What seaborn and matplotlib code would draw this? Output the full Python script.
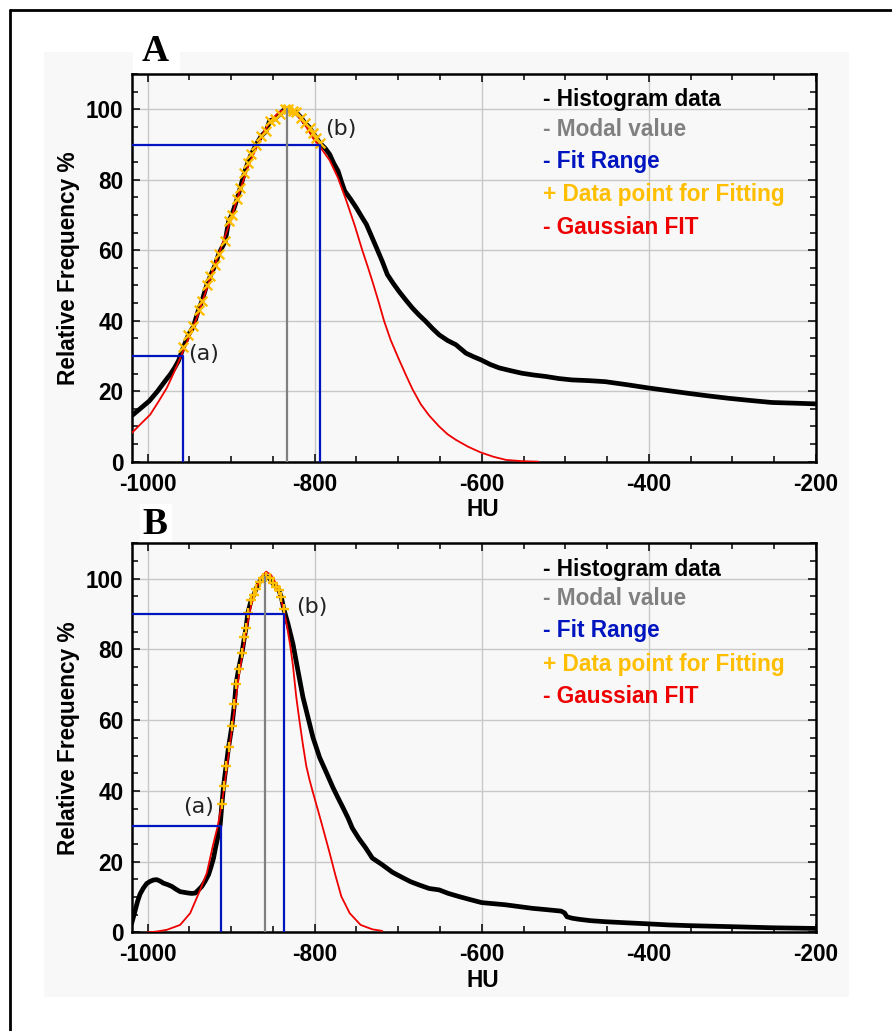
import numpy as np
import seaborn as sns
import matplotlib.pyplot as plt
from matplotlib.patches import Rectangle
from matplotlib.lines import Line2D
from matplotlib.ticker import MultipleLocator

# ---- panel A (HU, relative frequency %) ----
hist_a_hu = [-1018, -1013, -1008, -1003, -998, -993, -988, -983, -978, -973, -968, -963,
             -957, -951, -945, -939, -935, -929, -925, -919, -915, -907, -903, -899,
             -893, -889, -884, -880, -876, -870, -864, -858, -854, -848, -842, -836,
             -832, -826, -822, -816, -812, -806, -802, -798, -794,
             -787, -782, -777, -772, -768, -764, -757, -750, -744, -738, -732, -726,
             -719, -713, -706, -699, -691, -683, -675, -667, -659, -651, -641, -631,
             -619, -610, -601, -590, -579, -565, -552, -538, -524, -508, -492, -472,
             -452, -425, -400, -375, -353, -330, -305, -280, -253, -225, -200]
hist_a_freq = [13.2, 14.2, 15.2, 16.2, 17.2, 18.6, 20.0, 21.6, 23.2, 24.7, 26.5, 28.6,
               32.5, 36.0, 38.4, 43.1, 45.5, 50.2, 52.6, 55.9, 58.8, 62.6, 68.2, 70.1,
               74.4, 77.7, 82.0, 84.8, 87.2, 90.0, 92.4, 93.8, 96.7, 97.2, 98.6, 100.0,
               100.0, 99.5, 99.1, 97.6, 96.2, 94.8, 93.3, 91.9, 90.5,
               88.8, 87.2, 84.6, 82.5, 79.5, 76.8, 74.5, 72.0, 69.6, 67.3, 64.0, 60.7,
               56.8, 53.1, 50.6, 48.3, 45.9, 43.6, 41.6, 39.8, 37.8, 36.0, 34.4, 33.2,
               30.8, 29.8, 28.9, 27.6, 26.6, 25.8, 25.1, 24.6, 24.2, 23.6, 23.2, 23.0,
               22.7, 21.8, 20.9, 20.1, 19.4, 18.7, 18.0, 17.4, 16.8, 16.6, 16.4]
gauss_a_hu = [-1019, -1009, -997, -987, -977, -968, -961, -950, -940, -930, -920, -910,
              -900, -890, -880, -870, -860, -850, -842, -834, -826, -818, -810, -802,
              -794, -788, -782, -772, -762, -752, -743, -736, -730, -723, -717, -709,
              -700, -691, -683, -673, -663, -651, -641, -631, -616, -601, -586, -571,
              -552, -532]
gauss_a_freq = [8.1, 10.5, 13.3, 17.0, 20.9, 25.5, 29.4, 35.5, 41.5, 48.5, 55.5, 62.0,
                69.0, 76.5, 83.5, 89.0, 94.0, 97.5, 99.3, 100.0, 99.5, 97.5, 95.0, 91.8,
                89.5, 87.5, 85.5, 80.5, 74.0, 67.0, 60.0, 55.0, 50.5, 45.0, 40.0, 34.5,
                29.5, 24.7, 20.6, 16.3, 13.1, 10.0, 7.8, 6.2, 4.2, 2.6, 1.4, 0.5,
                0.15, 0.0]
fit_a = (-958, -794)      # HU at (a) 30 % and (b) 90 %
modal_a = -833

# ---- panel B ----
hist_b_hu = [-1019, -1015, -1012, -1009, -1005, -1001, -997, -993, -989, -985, -981, -976,
             -971, -966, -961, -956, -951, -947, -943, -939, -935, -931, -927, -924,
             -921, -919, -917, -915, -913,
             -911, -909, -906, -903, -899, -896, -894, -891, -887, -884, -882, -880,
             -876, -873, -870, -866, -862, -858, -854, -850, -846, -843, -840, -837,
             -832, -826, -820, -814, -808, -802, -794, -786, -778, -772, -766, -760,
             -755, -747, -739, -731, -719, -707, -695, -685, -675, -663, -651, -640,
             -627, -613, -600, -586, -572, -556, -540, -522, -505, -501, -498, -492,
             -484, -470, -452, -427, -401, -377, -353, -327, -301, -278, -254, -228, -200]
hist_b_freq = [2.5, 6.0, 8.7, 10.8, 12.5, 13.8, 14.4, 14.8, 14.9, 14.5, 13.9, 13.5,
               13.0, 12.2, 11.5, 11.3, 11.1, 11.0, 11.1, 12.0, 13.0, 14.5, 16.3, 18.5,
               21.0, 23.5, 25.7, 28.0, 30.5,
               36.2, 41.4, 47.0, 52.4, 58.4, 64.6, 70.3, 74.5, 79.0, 83.5, 86.2, 90.3,
               93.9, 95.3, 97.2, 99.1, 100.1, 100.6, 100.1, 98.7, 97.7, 96.8, 94.9, 91.5,
               87.3, 81.6, 74.0, 66.5, 60.8, 55.1, 49.4, 45.2, 40.9, 38.0, 35.2, 32.3,
               29.5, 26.5, 23.9, 21.0, 19.1, 17.0, 15.5, 14.3, 13.4, 12.4, 12.0, 11.0,
               10.1, 9.2, 8.4, 8.1, 7.8, 7.3, 6.8, 6.4, 6.0, 5.5, 4.4, 4.0,
               3.7, 3.3, 3.0, 2.7, 2.4, 2.1, 1.9, 1.75, 1.6, 1.45, 1.3, 1.2, 1.1]
gauss_b_hu = [-1000, -990, -977, -961, -949, -937, -929, -922, -916, -911, -906, -901,
              -896, -891, -886, -881, -876, -870, -864, -858, -852, -846, -841, -837,
              -833, -829, -826, -822, -818, -814, -810, -806, -802, -796, -789, -782,
              -775, -768, -758, -745, -731, -719]
gauss_b_freq = [0.0, 0.2, 0.7, 2.1, 5.4, 12.0, 16.8, 24.3, 30.0, 36.5, 45.0, 54.0,
                63.0, 72.0, 79.5, 86.5, 92.5, 97.5, 100.5, 102.0, 101.0, 98.5, 95.0, 91.0,
                86.5, 80.7, 75.5, 66.5, 59.5, 53.0, 47.0, 43.0, 39.5, 34.5, 28.5, 22.4,
                16.0, 10.1, 5.4, 2.1, 0.85, 0.4]
fit_b = (-911.5, -837)
modal_b = -859

fit_levels = [30, 90]
x_ticks = [-1000, -800, -600, -400, -200]
y_ticks = [0, 20, 40, 60, 80, 100]
legend_labels = ['- Histogram data', '- Modal value', '- Fit Range',
                 '+ Data point for Fitting', '- Gaussian FIT']

C_HIST, C_MODAL, C_FIT, C_PTS, C_GAUSS = 'black', '#808080', '#0014c0', '#ffbf00', '#ee0000'
legend_colors = [C_HIST, C_MODAL, C_FIT, C_PTS, C_GAUSS]

sns.set_style('ticks')
plt.rcParams['font.family'] = ['Liberation Sans', 'DejaVu Sans']
plt.rcParams['text.color'] = 'black'
plt.rcParams['xtick.color'] = 'black'
plt.rcParams['ytick.color'] = 'black'
plt.rcParams['axes.labelcolor'] = 'black'
FS = 16.3

fig = plt.figure(figsize=(8.92, 10.31), dpi=100)
fig.patch.set_facecolor('white')
# light grey panel and the outer frame of the original figure (behind the axes)
fig.patches.append(Rectangle((0.0493, 0.033), 0.9025, 0.9166, transform=fig.transFigure,
                             facecolor='#f8f8f8', edgecolor='none', zorder=-3))
for (x0, y0, w, h) in [(0.149, 0.9286, 0.053, 0.0213), (0.157, 0.474, 0.036, 0.037)]:
    fig.patches.append(Rectangle((x0, y0), w, h, transform=fig.transFigure,
                                 facecolor='white', edgecolor='none', zorder=-2))
fig.lines.append(Line2D([0.0112, 0.0112], [0, 0.9903], transform=fig.transFigure,
                        color='black', lw=2, zorder=-1))
fig.lines.append(Line2D([0.0112, 1.0], [0.9903, 0.9903], transform=fig.transFigure,
                        color='black', lw=2, zorder=-1))


def draw_panel(ax, hu, freq, g_hu, g_freq, fit, modal, pts_marker, a_pos, b_pos, a_ha):
    hu = np.asarray(hu)
    freq = np.asarray(freq)
    xmin = -1019
    ax.set_facecolor('#f8f8f8')

    sns.lineplot(x=hu, y=freq, ax=ax, color=C_HIST, lw=3.4,
                 estimator=None, sort=False, zorder=3)
    sns.lineplot(x=g_hu, y=g_freq, ax=ax, color=C_GAUSS, lw=1.3,
                 estimator=None, sort=False, zorder=4)
    sel = (hu >= fit[0]) & (hu <= fit[1])
    sns.scatterplot(x=hu[sel], y=freq[sel], ax=ax, marker=pts_marker, color=C_PTS,
                    s=48, linewidth=1.7, zorder=5)

    # fit range and modal value
    ax.plot([xmin, fit[0], fit[0]], [fit_levels[0], fit_levels[0], 0], color=C_FIT, lw=1.6, zorder=6)
    ax.plot([xmin, fit[1], fit[1]], [fit_levels[1], fit_levels[1], 0], color=C_FIT, lw=1.6, zorder=6)
    ax.plot([modal, modal], [0, freq.max()], color=C_MODAL, lw=1.6, zorder=6)

    ax.text(a_pos[0], a_pos[1], '(a)', ha=a_ha, va='center', fontsize=16,
            family='DejaVu Sans', color='#222222', zorder=7)
    ax.text(b_pos[0], b_pos[1], '(b)', ha='left', va='center', fontsize=16,
            family='DejaVu Sans', color='#222222', zorder=7)

    for i, (lab, col) in enumerate(zip(legend_labels, legend_colors)):
        ax.text(0.601, [0.933, 0.858, 0.775, 0.689, 0.605][i], lab, transform=ax.transAxes,
                color=col, fontsize=FS, fontweight='bold', va='center', zorder=7)

    ax.set_xlim(xmin, -200)
    ax.set_ylim(0, 110)
    ax.set_xticks(x_ticks)
    ax.set_xticklabels([str(t) for t in x_ticks], fontsize=FS, fontweight='bold')
    ax.set_yticks(y_ticks)
    ax.set_yticklabels([str(t) for t in y_ticks], fontsize=FS, fontweight='bold')
    ax.xaxis.set_minor_locator(MultipleLocator(50))
    ax.yaxis.set_minor_locator(MultipleLocator(5))
    ax.grid(True, which='major', color='#c8c8c8', lw=1.0, zorder=1)
    ax.set_axisbelow(True)
    ax.tick_params(which='both', direction='in', top=True, right=True, width=1.1, color='black')
    ax.tick_params(which='major', length=6)
    ax.tick_params(which='minor', length=4)
    ax.tick_params(axis='x', pad=8)
    ax.tick_params(axis='y', pad=6)
    for s in ax.spines.values():
        s.set_linewidth(1.8)
        s.set_color('black')

    ax.set_xlabel('HU', fontsize=FS, fontweight='bold')
    ax.xaxis.set_label_coords(0.513, -0.124)
    ax.xaxis.label.set_va('center')
    ax.set_ylabel('Relative Frequency %', fontsize=FS, fontweight='bold')
    ax.yaxis.set_label_coords(-0.0916, 0.5)
    ax.yaxis.label.set_va('center')


ax_a = fig.add_axes([0.1476, 0.5522, 0.7672, 0.376])
draw_panel(ax_a, hist_a_hu, hist_a_freq, gauss_a_hu, gauss_a_freq, fit_a, modal_a,
           'x', (-951, 30.5), (-787, 94.5), 'left')
ax_b = fig.add_axes([0.1476, 0.0957, 0.7672, 0.3773])
draw_panel(ax_b, hist_b_hu, hist_b_freq, gauss_b_hu, gauss_b_freq, fit_b, modal_b,
           '+', (-921, 35.5), (-822, 92.0), 'right')

fig.text(0.1738, 0.9496, 'A', ha='center', va='center', fontsize=27, fontweight='bold',
         family='Liberation Serif')
fig.text(0.1738, 0.4908, 'B', ha='center', va='center', fontsize=27, fontweight='bold',
         family='Liberation Serif')

fig.savefig('out.png', dpi=100, facecolor='white')
